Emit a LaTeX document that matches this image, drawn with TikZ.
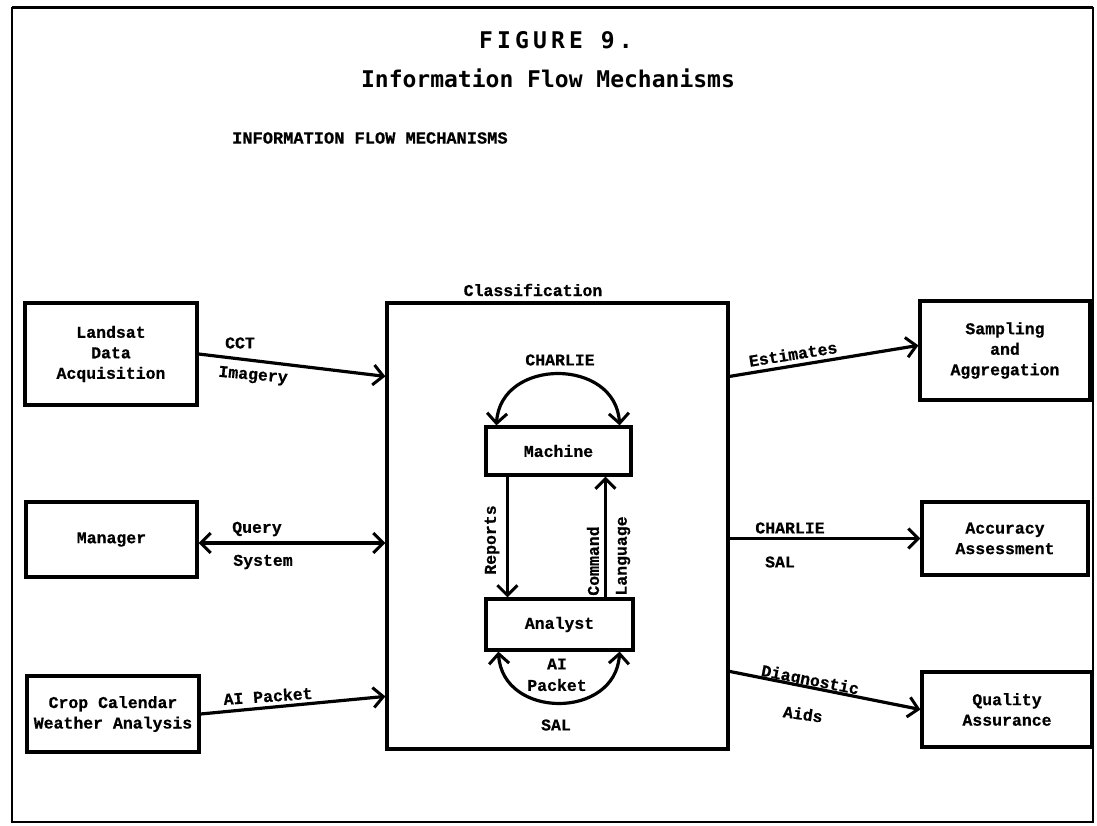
\documentclass[tikz,border=0pt]{standalone}
\usepackage{fontspec}
\newfontfamily\lblf{Liberation Mono}[UprightFont=* Bold, FakeBold=0.6]
\newfontfamily\titlefont{DejaVu Sans Mono}[UprightFont=* Bold, LetterSpace=18]
\newfontfamily\titlefontb{DejaVu Sans Mono}[UprightFont=* Bold]
\usetikzlibrary{arrows.meta}
\begin{document}
\begin{tikzpicture}[x=1pt,y=-1pt,
  lblfont/.style={font=\lblf\fontsize{16.5}{20.5}\selectfont},
  lbl/.style={lblfont, inner sep=0pt},
  box/.style={draw, line width=3.2pt, lblfont, align=center, inner sep=0pt},
  tip/.tip={Straight Barb[length=10pt,width=20pt,line width=3pt]},
  arr/.style={line width=3.2pt, -tip},
  darr/.style={line width=3.2pt, tip-tip},
  frame/.style={line width=1.4pt}
]
\useasboundingbox (0,0) rectangle (1097,826);
% outer frame
\draw[frame] (12,8) rectangle (1093,822);
\draw[line width=3pt] (12,8) -- (1093,8);

% titles
\node[font=\titlefont\fontsize{23}{26}\selectfont, inner sep=0pt] (t1) at (556,40) {FIGURE 9.};
\node[font=\titlefontb\fontsize{23}{26}\selectfont, inner sep=0pt] (t2) at (548,78) {Information Flow Mechanisms};
\node[font=\lblf\fontsize{17}{20}\selectfont, inner sep=0pt, anchor=west] (t3) at (232,138) {INFORMATION FLOW MECHANISMS};

% left boxes
\node[box, minimum width=172, minimum height=102] (landsat) at (111,354) {Landsat\\Data\\Acquisition};
\node[box, minimum width=171, minimum height=75] (manager) at (111.5,539.5) {Manager};
\node[box, minimum width=172, minimum height=76] (crop) at (113,714) {Crop Calendar\\Weather Analysis};

% classification
\node[box, minimum width=341, minimum height=446] (class) at (557.5,526) {};
\node[lbl] (classlbl) at (533,290) {Classification};
\node[box, minimum width=145, minimum height=48] (machine) at (558.5,451) {Machine};
\node[box, minimum width=147, minimum height=51] (analyst) at (559.5,624.5) {Analyst};

% right boxes
\node[box, minimum width=170, minimum height=99] (sampling) at (1005,350.5) {Sampling\\and\\Aggregation};
\node[box, minimum width=166, minimum height=73] (accuracy) at (1005,538.5) {Accuracy\\Assessment};
\node[box, minimum width=170, minimum height=75] (quality) at (1007,709.5) {Quality\\Assurance};

% left connectors
\draw[arr] (landsat.east) -- ([yshift=-75pt]class.north west);
\draw[darr] (manager.east |- 0,543) -- (class.west |- 0,543);
\draw[arr] (crop.east) -- ([yshift=-395pt]class.north west);
\node[lbl] (cct) at (240,343) {CCT};
\node[lbl, rotate=-5] (imagery) at (253,376) {Imagery};
\node[lbl] (query) at (257,529) {Query};
\node[lbl] (system) at (263,562) {System};
\node[lbl, rotate=4] (aipk) at (268,696) {AI Packet};

% right connectors
\draw[arr] ([yshift=-75pt]class.north east) -- ([yshift=-46pt]sampling.north west);
\draw[arr] (accuracy.west -| class.east) -- (accuracy.west);
\draw[arr] ([yshift=-370pt]class.north east) -- (quality.west);
\node[lbl, rotate=9] (est) at (793,354) {Estimates};
\node[lbl] (charlie2) at (790,528) {CHARLIE};
\node[lbl] (sal2) at (780,562) {SAL};
\node[lbl, rotate=-11] (diag) at (810,681) {Diagnostic};
\node[lbl, rotate=-8] (aids) at (803,714) {Aids};

% inner connectors
\draw[arr] ([xshift=23pt]machine.south west) -- ([xshift=23pt]machine.south west |- analyst.north);
\draw[arr] ([xshift=121pt]analyst.north west) -- ([xshift=121pt]analyst.north west |- machine.south);
\draw[darr] ([xshift=12pt]machine.north west) .. controls +(4,-68) and +(-4,-68) .. ([xshift=-13pt]machine.north east);
\draw[darr] ([xshift=14pt]analyst.south west) .. controls +(4,68) and +(-4,68) .. ([xshift=-15pt]analyst.south east);
\node[lbl] (charlie1) at (560,360) {CHARLIE};
\node[lbl, rotate=90] (reports) at (492,540) {Reports};
\node[lbl, rotate=90] (command) at (593,561) {Command};
\node[lbl, rotate=90] (language) at (623,556) {Language};
\node[lbl] (ai) at (557,664) {AI};
\node[lbl] (packet) at (557,685) {Packet};
\node[lbl] (sal1) at (556,725) {SAL};
\end{tikzpicture}
\end{document}
